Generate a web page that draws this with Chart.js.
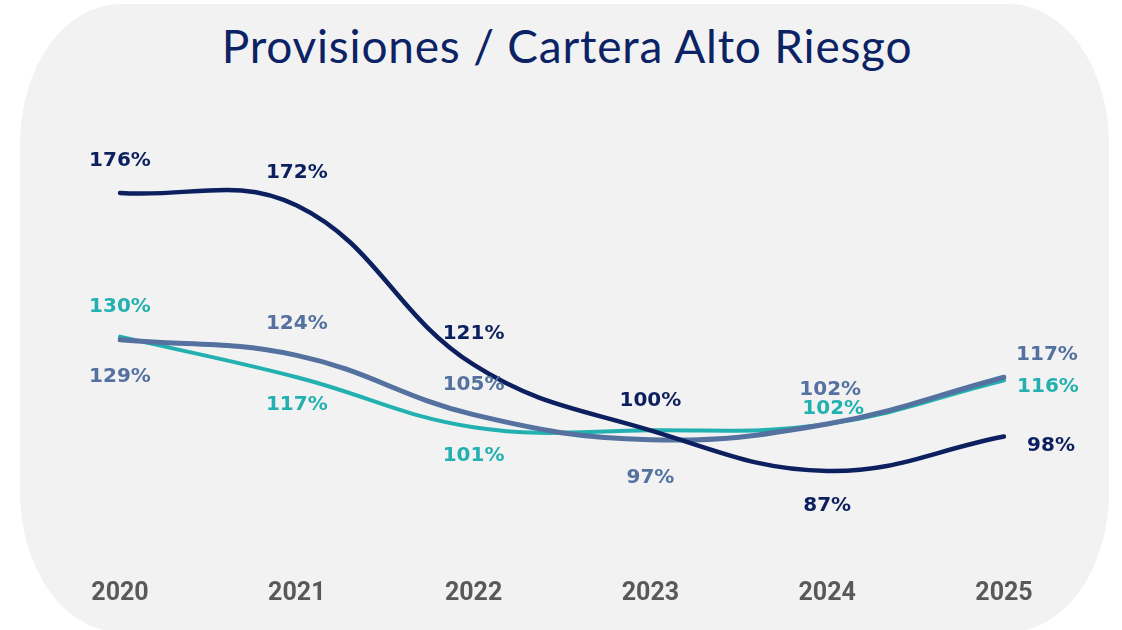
<!DOCTYPE html>
<html>
<head>
<meta charset="utf-8">
<script src="https://cdn.jsdelivr.net/npm/chart.js@4.4.1/dist/chart.umd.min.js"></script>
<style>
  html, body { margin: 0; padding: 0; background: #ffffff; }
  #wrap { position: relative; width: 1122px; height: 630px; overflow: hidden; }
  #panel {
    position: absolute; left: 20px; top: 4px; width: 1089px; height: 628px;
    background: #f2f2f2; border-radius: 100px / 140px;
  }
  #title {
    position: absolute; left: 6px; top: 18px; width: 1122px; text-align: center;
    font-family: "Lato", sans-serif; font-size: 46px; letter-spacing: 0.8px;
    color: #0b2265; white-space: nowrap;
  }
  canvas { position: absolute; left: 0; top: 0; }
</style>
</head>
<body>
<div id="wrap">
  <div id="panel"></div>
  <div id="title">Provisiones / Cartera Alto Riesgo</div>
  <canvas id="chart" width="1122" height="630"></canvas>
</div>
<script>
// data
var years = ['2020', '2021', '2022', '2023', '2024', '2025'];
var navyValues = [176, 172, 121, 100, 87, 98];
var slateValues = [129, 124, 105, 97, 102, 117];
var tealValues = [130, 117, 101, 100, 102, 116];

// label placement (dx, dy from the point), null = no label
var navyLabelPos = [[0, -32], [0, -33], [0, -31], [0, -30], [0, 35], [47, 9]];
var slateLabelPos = [[0, 37], [0, -32], [0, -30], [0, 38], [3, -34], [43, -22]];
var tealLabelPos = [[0, -30], [0, 28], [0, 29], null, [6, -15], [44, 6]];

var navy = '#0c1f5e';
var slate = '#5471a0';
var teal = '#22b0b0';

var pointLabels = {
    id: 'pointLabels',
    afterDatasetsDraw(chart) {
        var ctx = chart.ctx;
        ctx.save();
        ctx.font = 'bold 20px "DejaVu Sans", sans-serif';
        ctx.textAlign = 'center';
        ctx.textBaseline = 'middle';
        chart.data.datasets.forEach((ds, i) => {
            var meta = chart.getDatasetMeta(i);
            meta.data.forEach((pt, j) => {
                var pos = ds.labelPos[j];
                if (!pos) return;
                ctx.fillStyle = ds.borderColor;
                ctx.fillText(ds.data[j] + '%', pt.x + pos[0], pt.y + pos[1]);
            });
        });
        ctx.restore();
    }
};

new Chart(document.getElementById('chart'), {
    type: 'line',
    data: {
        labels: years,
        datasets: [
            { data: navyValues, borderColor: navy, borderWidth: 4.5, labelPos: navyLabelPos, order: 1 },
            { data: slateValues, borderColor: slate, borderWidth: 5, labelPos: slateLabelPos, order: 2 },
            { data: tealValues, borderColor: teal, borderWidth: 4, labelPos: tealLabelPos, order: 3 }
        ]
    },
    options: {
        responsive: false,
        animation: false,
        layout: { padding: { left: 120, right: 118, top: 118, bottom: 22 } },
        elements: {
            line: { tension: 0.4, borderCapStyle: 'round', fill: false },
            point: { radius: 0 }
        },
        plugins: { legend: { display: false }, tooltip: { enabled: false } },
        scales: {
            y: { display: false, min: 70, max: 200 },
            x: {
                offset: false,
                grid: { display: false, drawTicks: false },
                border: { display: false },
                afterFit(scale) { scale.height = 84; },
                ticks: {
                    color: '#595959',
                    padding: 55,
                    font: { family: 'Roboto', size: 25, weight: 'bold' }
                }
            }
        }
    },
    plugins: [pointLabels]
});
</script>
</body>
</html>
